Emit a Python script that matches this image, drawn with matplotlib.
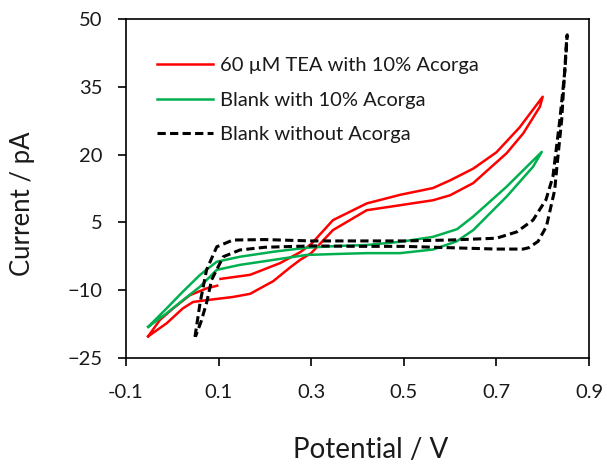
import numpy as np
import matplotlib
matplotlib.use('Agg')
import matplotlib.pyplot as plt

plt.rcParams['font.family'] = ['Lato', 'DejaVu Sans']

# 60 uM TEA with 10% Acorga (forward then reverse scan)
tea_v = [-0.052, -0.027, 0.002, 0.038, 0.074, 0.097, np.nan, 0.104, 0.168, 0.233, 0.276, 0.3,
         0.347, 0.42, 0.492, 0.563, 0.6, 0.65, 0.7, 0.75, 0.8,
         0.794, 0.758, 0.722, 0.65, 0.6, 0.563, 0.492, 0.42, 0.347, 0.3, 0.276,
         0.254, 0.218, 0.168, 0.131, 0.074, 0.045, 0.023, -0.012, -0.052]
tea_i = [-20.2, -16.6, -14.0, -11.1, -9.6, -9.0, np.nan, -7.5, -6.6, -4.0, -1.6, 0.2,
         5.5, 9.2, 11.1, 12.6, 14.3, 16.9, 20.5, 26.0, 32.8,
         30.6, 24.7, 20.3, 13.7, 11.0, 9.9, 8.8, 7.7, 3.3, -1.8, -3.3,
         -5.0, -8.0, -10.8, -11.5, -12.2, -12.6, -14.0, -17.3, -20.2]

# Blank with 10% Acorga
acorga_v = [-0.052, -0.012, 0.023, 0.06, 0.096, 0.146, 0.218, 0.29, 0.36, 0.42, 0.492,
            0.563, 0.615, 0.65, 0.722, 0.798,
            0.779, 0.722, 0.65, 0.614, 0.563, 0.492, 0.42, 0.35, 0.29, 0.218, 0.146,
            0.096, 0.06, 0.023, -0.012, -0.052]
acorga_i = [-18.1, -14.0, -10.3, -6.6, -3.7, -2.6, -1.5, -0.6, -0.2, 0.0, 0.7,
            1.8, 3.5, 6.3, 12.9, 20.6,
            17.3, 10.7, 3.3, 0.8, -1.0, -1.8, -1.8, -2.0, -2.2, -3.3, -4.4,
            -5.5, -9.2, -12.2, -15.1, -18.1]

# Blank without Acorga
blank_v = [0.049, 0.06, 0.074, 0.096, 0.131, 0.2, 0.3, 0.4, 0.5, 0.6, 0.7, 0.744,
           0.779, 0.807, 0.822, 0.837, 0.848, 0.853,
           0.852, 0.841, 0.83, 0.826, 0.808, 0.79, 0.77, 0.758, 0.7, 0.6, 0.5, 0.4,
           0.3, 0.2, 0.146, 0.11, 0.085, 0.074, 0.062, 0.05]
blank_i = [-20.3, -12.8, -5.5, -0.4, 1.1, 1.2, 0.9, 0.9, 0.9, 1.1, 1.5, 2.9,
           5.5, 10.0, 15.1, 27.7, 38.7, 46.5,
           46.0, 27.7, 16.6, 12.2, 4.1, 0.8, -0.6, -0.9, -0.9, -0.6, -0.3, -0.3,
           -0.2, -0.5, -1.1, -2.6, -7.7, -12.8, -17.0, -20.3]

x_ticks = [-0.1, 0.1, 0.3, 0.5, 0.7, 0.9]
y_ticks = [-25, -10, 5, 20, 35, 50]

fig = plt.figure(figsize=(6.07, 4.66), dpi=100)
ax = fig.add_axes([126 / 607, 1 - 358 / 466, 463 / 607, 339 / 466])

ax.plot(tea_v, tea_i, color='#ff0000', lw=1.8, label='60 µM TEA with 10% Acorga')
ax.plot(acorga_v, acorga_i, color='#00b050', lw=1.8, label='Blank with 10% Acorga')
ax.plot(blank_v, blank_i, color='black', lw=2.2, ls=(0, (2.7, 1.4)),
        label='Blank without Acorga')

ax.set_xlim(-0.1, 0.9)
ax.set_ylim(-25, 50)
ax.set_xticks(x_ticks)
ax.set_yticks(y_ticks)
ax.set_xticklabels(['-0.1', '0.1', '0.3', '0.5', '0.7', '0.9'])
ax.tick_params(direction='out', length=6, width=1.2, labelsize=14.5,
               colors='black', labelcolor='#1a1a1a')
ax.tick_params(axis='x', pad=13)
ax.tick_params(axis='y', pad=11)
for s in ax.spines.values():
    s.set_linewidth(1.2)

ax.set_xlabel('Potential / V', fontsize=20, color='#1a1a1a')
ax.set_ylabel('Current / pA', fontsize=18.5, color='#1a1a1a')
ax.xaxis.set_label_coords(0.528, -0.232)
ax.yaxis.set_label_coords(-0.197, 0.454)

leg = ax.legend(loc='center left', bbox_to_anchor=(0.067, 0.761), frameon=False,
                fontsize=14.5, handlelength=2.8, handletextpad=0.35,
                labelspacing=0.85, borderpad=0, borderaxespad=0)
for t in leg.get_texts():
    t.set_color('#1a1a1a')

fig.savefig('out.png', dpi=100)
